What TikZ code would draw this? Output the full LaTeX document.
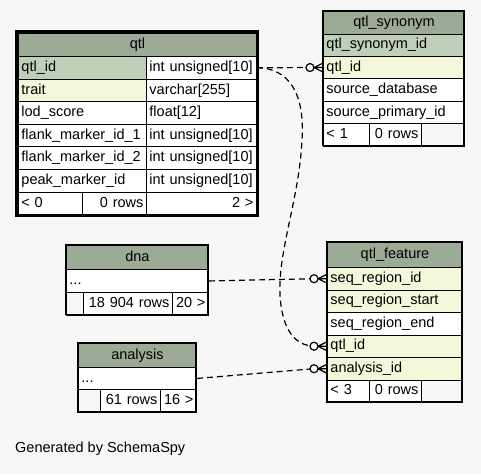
\documentclass[tikz,border=0pt]{standalone}
\usepackage{fontspec}
\setmainfont{Liberation Sans}
\usetikzlibrary{calc}
\definecolor{bg}{HTML}{F7F7F7}
\definecolor{hdr}{HTML}{9BAB96}
\definecolor{pk}{HTML}{BED1B8}
\definecolor{idx}{HTML}{F4F7DA}
\tikzset{
  cellsty/.style={draw=black, line width=0.9pt, inner xsep=3pt, inner ysep=0pt,
    font=\fontsize{14.5}{16}\selectfont, text=black, text height=10.5pt, text depth=3pt},
  link/.style={draw=black, line width=1.2pt, dash pattern=on 6pt off 4pt},
  markcirc/.style={draw=black, line width=1.2pt, fill=white},
  crowline/.style={draw=black, line width=1.2pt},
  tableframe/.style={draw=black, line width=1.5pt},
  thickframe/.style={draw=black, line width=3pt},
}
% name, x1, y1, x2, y2, fill, align, text
\newcommand\cellbox[8]{%
  \pgfmathsetmacro\cw{#4-#2}\pgfmathsetmacro\ch{#5-#3}\pgfmathsetmacro\tw{#4-#2-6}%
  \node[cellsty, fill=#6, align=#7, text width=\tw pt, minimum width=\cw pt,
        minimum height=\ch pt, anchor=north west] (#1) at (#2,#3) {#8};}
\newcommand\crowfoot[1]{%
  \draw[crowline] ($(#1.west)+(-9,0)$) -- ($(#1.west)+(0,-4.5)$)
                  ($(#1.west)+(-9,0)$) -- (#1.west)
                  ($(#1.west)+(-9,0)$) -- ($(#1.west)+(0,4.5)$);
  \draw[markcirc] ($(#1.west)+(-13,0)$) circle [radius=4pt];}
\begin{document}
\begin{tikzpicture}[x=1pt,y=-1pt]
\fill[bg] (0,0) rectangle (481,474);
\useasboundingbox (0,0) rectangle (481,474);

% ---- qtl
\cellbox{qtlh}{18}{33}{256}{56}{hdr}{center}{qtl}
\cellbox{qtlidn}{18}{56}{146}{78.6}{pk}{left}{qtl\_id}
\cellbox{qtlidt}{146}{56}{256}{78.6}{white}{left}{int unsigned[10]}
\cellbox{traitn}{18}{78.6}{146}{101.2}{idx}{left}{trait}
\cellbox{traitt}{146}{78.6}{256}{101.2}{white}{left}{varchar[255]}
\cellbox{lodn}{18}{101.2}{146}{123.8}{white}{left}{lod\_score}
\cellbox{lodt}{146}{101.2}{256}{123.8}{white}{left}{float[12]}
\cellbox{fl1n}{18}{123.8}{146}{146.4}{white}{left}{flank\_marker\_id\_1}
\cellbox{fl1t}{146}{123.8}{256}{146.4}{white}{left}{int unsigned[10]}
\cellbox{fl2n}{18}{146.4}{146}{169}{white}{left}{flank\_marker\_id\_2}
\cellbox{fl2t}{146}{146.4}{256}{169}{white}{left}{int unsigned[10]}
\cellbox{pkn}{18}{169}{146}{191.6}{white}{left}{peak\_marker\_id}
\cellbox{pkt}{146}{169}{256}{191.6}{white}{left}{int unsigned[10]}
\cellbox{qtlf1}{18}{191.6}{82}{214.2}{white}{left}{< 0}
\cellbox{qtlf2}{82}{191.6}{146}{214.2}{white}{right}{0 rows}
\cellbox{qtlf3}{146}{191.6}{256}{214.2}{white}{right}{2 >}
\draw[thickframe] (16.5,31.5) rectangle (257.5,215.7);

% ---- qtl_synonym
\cellbox{synh}{323}{10.5}{464}{33.5}{hdr}{center}{qtl\_synonym}
\cellbox{synid}{323}{33.5}{464}{55.9}{pk}{left}{qtl\_synonym\_id}
\cellbox{synqtl}{323}{55.9}{464}{78.3}{idx}{left}{qtl\_id}
\cellbox{synsrc}{323}{78.3}{464}{100.7}{white}{left}{source\_database}
\cellbox{synspi}{323}{100.7}{464}{123.1}{white}{left}{source\_primary\_id}
\cellbox{synf1}{323}{123.1}{369}{145.5}{white}{left}{< 1}
\cellbox{synf2}{369}{123.1}{421}{145.5}{white}{right}{0 rows}
\cellbox{synf3}{421}{123.1}{464}{145.5}{bg}{left}{}
\draw[tableframe] (323,10.5) rectangle (464,145.5);

% ---- dna
\cellbox{dnah}{66}{245}{208}{269}{hdr}{center}{dna}
\cellbox{dnadots}{66}{269}{208}{292}{white}{left}{...}
\cellbox{dnaf1}{66}{292}{83}{314.5}{bg}{left}{}
\cellbox{dnaf2}{83}{292}{172}{314.5}{white}{right}{18 904 rows}
\cellbox{dnaf3}{172}{292}{208}{314.5}{white}{right}{20 >}
\draw[tableframe] (66,245) rectangle (208,314.5);

% ---- analysis
\cellbox{anh}{78}{343}{196}{367}{hdr}{center}{analysis}
\cellbox{andots}{78}{367}{196}{389}{white}{left}{...}
\cellbox{anf1}{78}{389}{100}{412}{bg}{left}{}
\cellbox{anf2}{100}{389}{160}{412}{white}{right}{61 rows}
\cellbox{anf3}{160}{389}{196}{412}{white}{right}{16 >}
\draw[tableframe] (78,343) rectangle (196,412);

% ---- qtl_feature
\cellbox{feath}{327}{241.5}{462}{267}{hdr}{center}{qtl\_feature}
\cellbox{featseq}{327}{267}{462}{289.5}{idx}{left}{seq\_region\_id}
\cellbox{featstart}{327}{289.5}{462}{312}{idx}{left}{seq\_region\_start}
\cellbox{featend}{327}{312}{462}{334.5}{white}{left}{seq\_region\_end}
\cellbox{featqtl}{327}{334.5}{462}{357}{idx}{left}{qtl\_id}
\cellbox{featan}{327}{357}{462}{379.5}{idx}{left}{analysis\_id}
\cellbox{featf1}{327}{379.5}{369}{402}{white}{left}{< 3}
\cellbox{featf2}{369}{379.5}{421}{402}{white}{right}{0 rows}
\cellbox{featf3}{421}{379.5}{462}{402}{bg}{left}{}
\draw[tableframe] (327,241.5) rectangle (462,402);

% ---- connectors
\draw[link] (qtlidt.east) -- ($(synqtl.west)+(-13,0)$);
\draw[link] (qtlidt.east) .. controls (290,68) and (305,95) .. (302,140)
  .. controls (299,200) and (278,250) .. (280,295)
  .. controls (282,330) and (295,345.5) .. ($(featqtl.west)+(-13,0)$);
\draw[link] (dnadots.east) -- ($(featseq.west)+(-13,0)$);
\draw[link] (andots.east) -- ($(featan.west)+(-13,0)$);
\crowfoot{synqtl}
\crowfoot{featseq}
\crowfoot{featqtl}
\crowfoot{featan}

\node[anchor=west, inner sep=0pt, font=\fontsize{14.5}{16}\selectfont] (gen) at (15,449) {Generated by SchemaSpy};
\end{tikzpicture}
\end{document}
